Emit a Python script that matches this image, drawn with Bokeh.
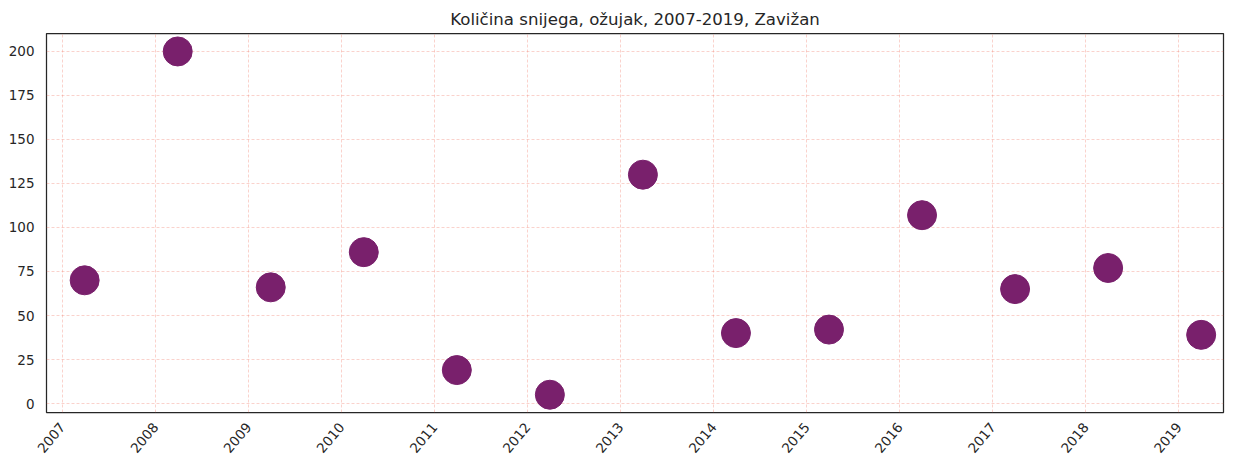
from bokeh.plotting import figure
from bokeh.models import ColumnDataSource, FixedTicker, Range1d
from bokeh.embed import file_html
from bokeh.resources import INLINE

years = [2007, 2008, 2009, 2010, 2011, 2012, 2013, 2014, 2015, 2016, 2017, 2018, 2019]
snow_cm = [70, 200, 66, 86, 19, 5, 130, 40, 42, 107, 65, 77, 39]
month_offset = 0.24  # measurement late in March
tick_years = years

src = ColumnDataSource(dict(x=[y + month_offset for y in years], y=snow_cm))

p = figure(width=1236, height=468, output_backend="svg", toolbar_location=None,
           x_range=Range1d(2006.83, 2019.48), y_range=Range1d(-5.1, 210.2),
           min_border_left=46, min_border_right=13, min_border_top=33, min_border_bottom=56,
           title="Količina snijega, ožujak, 2007-2019, Zavižan")

p.title.text_font = "DejaVu Sans"
p.title.text_font_size = "16.6px"
p.title.text_font_style = "normal"
p.title.text_color = "#262626"
p.title.align = "center"

p.scatter("x", "y", source=src, size=29, fill_color="#79206c", line_color="#79206c")

p.xaxis.ticker = FixedTicker(ticks=tick_years)
p.yaxis.ticker = FixedTicker(ticks=[0, 25, 50, 75, 100, 125, 150, 175, 200])
p.xaxis.major_label_orientation = 0.87

for ax in (p.xaxis, p.yaxis):
    ax.axis_line_color = None
    ax.major_tick_line_color = None
    ax.minor_tick_line_color = None
    ax.major_label_text_font = "DejaVu Sans"
    ax.major_label_text_font_size = "13.5px"
    ax.major_label_text_color = "#262626"
    ax.major_label_standoff = 6

p.outline_line_color = "#262626"
p.outline_line_width = 1.25

for g in (p.xgrid, p.ygrid):
    g.grid_line_color = "#f08070"
    g.grid_line_alpha = 0.45
    g.grid_line_dash = "3 2"
    g.grid_line_width = 0.8

open("out.html", "w").write(file_html(p, INLINE))
